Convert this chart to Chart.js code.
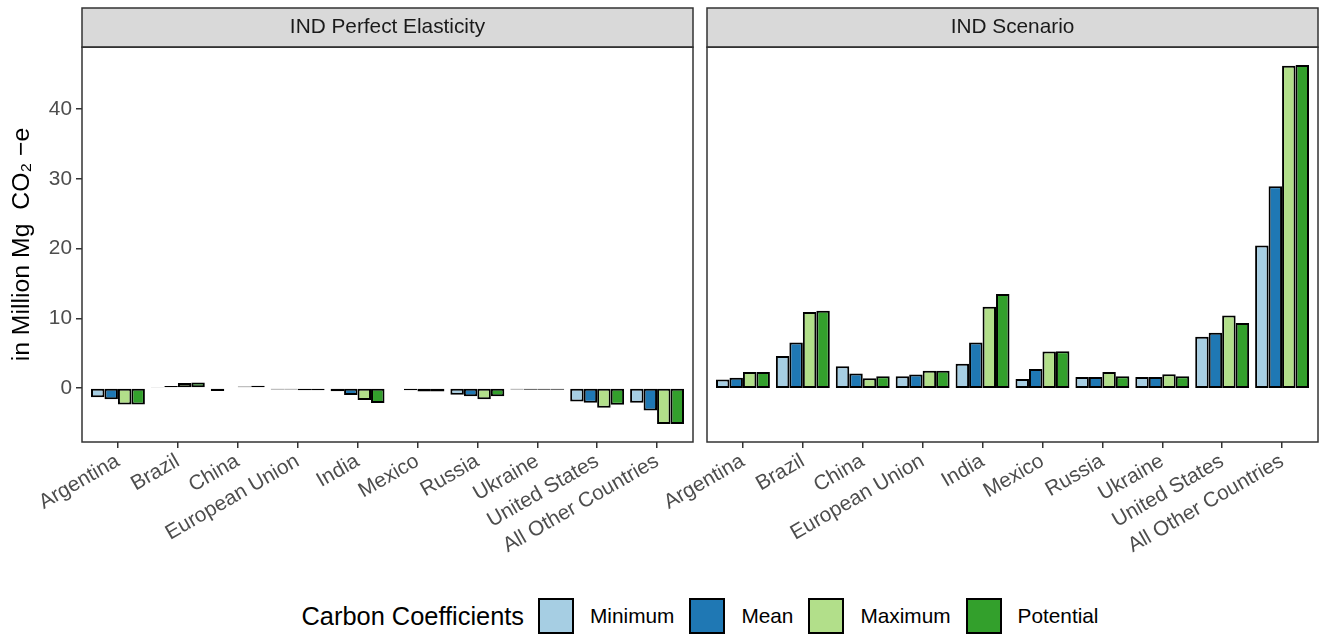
<!DOCTYPE html>
<html>
<head>
<meta charset="utf-8">
<script src="https://cdn.jsdelivr.net/npm/chart.js@4/dist/chart.umd.min.js"></script>
<style>
  html, body { margin: 0; padding: 0; background: #fff; }
  #wrap { position: relative; width: 1324px; height: 636px; font-family: "Liberation Sans", Arial, sans-serif; overflow: hidden; }
  #wrap canvas { position: absolute; left: 0; top: 0; }
  #legend { position: absolute; left: 76px; width: 1248px; top: 598px; height: 36px; display: flex; justify-content: center; align-items: center; }
  #legend .ttl { font-size: 25.4px; color: #000; margin-right: 14px; }
  #legend .key { width: 32px; height: 32px; border: 2px solid #000; margin-right: 16px; }
  #legend .lab { font-size: 20.8px; color: #000; margin-right: 15px; }
  #legend .lab:last-child { margin-right: 0; }
</style>
</head>
<body>
<div id="wrap">
  <canvas id="cvLeft" width="1324" height="590"></canvas>
  <canvas id="cvRight" width="1324" height="590"></canvas>
  <div id="legend"></div>
</div>
<script>
// Categories and series
const countries = ["Argentina", "Brazil", "China", "European Union", "India",
                   "Mexico", "Russia", "Ukraine", "United States", "All Other Countries"];
const seriesNames = ["Minimum", "Mean", "Maximum", "Potential"];
const seriesColors = ["#a6cee3", "#1f78b4", "#b2df8a", "#33a02c"];
const panelTitles = ["IND Perfect Elasticity", "IND Scenario"];
const legendTitle = "Carbon Coefficients";
const yTitle = "in Million Mg  CO\u2082 \u2212e";
const yTicks = [0, 10, 20, 30, 40];

// IND Perfect Elasticity (million Mg CO2-e)
const elasticMinimum   = [-1.3, 0.15, -0.4, -0.2, -0.45, -0.1, -0.95, -0.2, -1.9, -2.1];
const elasticMean      = [-1.6, 0.3, -0.1, -0.2, -1.0, -0.3, -1.15, -0.25, -2.1, -3.2];
const elasticMaximum   = [-2.35, 0.75, 0.25, -0.3, -1.7, -0.5, -1.6, -0.25, -2.8, -5.15];
const elasticPotential = [-2.35, 0.8, 0.35, -0.3, -2.15, -0.5, -1.15, -0.25, -2.4, -5.15];

// IND Scenario (million Mg CO2-e)
const scenarioMinimum   = [1.25, 4.6, 3.15, 1.7, 3.5, 1.3, 1.6, 1.6, 7.35, 20.45];
const scenarioMean      = [1.5, 6.55, 2.1, 1.95, 6.55, 2.75, 1.6, 1.6, 7.95, 28.95];
const scenarioMaximum   = [2.3, 10.9, 1.4, 2.5, 11.65, 5.25, 2.3, 2.0, 10.4, 46.2];
const scenarioPotential = [2.3, 11.1, 1.7, 2.5, 13.5, 5.3, 1.7, 1.7, 9.35, 46.3];

const elasticSeries = [elasticMinimum, elasticMean, elasticMaximum, elasticPotential];
const scenarioSeries = [scenarioMinimum, scenarioMean, scenarioMaximum, scenarioPotential];

// Shared y range: data range padded by 5% on both ends
const allValues = elasticSeries.concat(scenarioSeries).flat().concat([0]);
const dataMin = Math.min(...allValues), dataMax = Math.max(...allValues);
const span = dataMax - dataMin;
const yMin = dataMin - 0.05 * span, yMax = dataMax + 0.05 * span;

const FONT = "'Liberation Sans', Arial, sans-serif";
const SMALL = 20.8, LARGE = 24.8;
const W = 1324, H = 590;
const PANEL_TOP = 8, PANEL_BOTTOM = 442, AXIS_W = 82;

function makeDatasets(series) {
  return series.map((vals, s) => ({
    label: seriesNames[s],
    data: vals.map((v, i) => ({ x: i + 1, y: v })),
    backgroundColor: seriesColors[s],
    borderColor: '#000',
    borderWidth: 2,
    borderSkipped: false,
    categoryPercentage: 0.9,
    barPercentage: 1.0
  }));
}

// Grey strip above the panel and the dark panel frame
const panelFrame = {
  id: 'panelFrame',
  beforeDraw(chart) {
    const { ctx, chartArea: a } = chart;
    ctx.save();
    ctx.fillStyle = '#d9d9d9';
    ctx.fillRect(a.left, PANEL_TOP, a.right - a.left, a.top - PANEL_TOP);
    ctx.strokeStyle = '#333333';
    ctx.lineWidth = 1.5;
    ctx.strokeRect(a.left, PANEL_TOP, a.right - a.left, a.top - PANEL_TOP);
    ctx.restore();
  },
  afterDatasetsDraw(chart) {
    const { ctx, chartArea: a } = chart;
    ctx.save();
    ctx.strokeStyle = '#333333';
    ctx.lineWidth = 1.5;
    ctx.strokeRect(a.left, a.top, a.right - a.left, a.bottom - a.top);
    ctx.restore();
  }
};

function makeChart(canvasId, series, title, padLeft, padRight, showY) {
  return new Chart(document.getElementById(canvasId), {
    type: 'bar',
    data: { datasets: makeDatasets(series) },
    plugins: [panelFrame],
    options: {
      responsive: false,
      animation: false,
      events: [],
      layout: { padding: { top: PANEL_TOP, left: padLeft, right: padRight, bottom: 0 } },
      plugins: {
        legend: { display: false },
        tooltip: { enabled: false },
        title: {
          display: true,
          text: title,
          fullSize: false,
          color: '#1a1a1a',
          font: { family: FONT, size: SMALL, weight: 'normal', lineHeight: 1.2 },
          padding: { top: 7.1, bottom: 7.1 }
        }
      },
      scales: {
        x: {
          type: 'linear',
          offset: false,
          min: 0.4,
          max: 10.6,
          afterBuildTicks(axis) { axis.ticks = countries.map((c, i) => ({ value: i + 1 })); },
          afterFit(axis) {
            axis.height = H - PANEL_BOTTOM;
            axis.paddingLeft = 0; axis.paddingRight = 0;
          },
          grid: { display: true, offset: false, drawOnChartArea: false, drawTicks: true, tickLength: 6, color: '#333333', lineWidth: 1.5 },
          border: { display: false },
          ticks: {
            autoSkip: false,
            maxRotation: 30,
            minRotation: 30,
            padding: 1,
            color: '#4d4d4d',
            font: { family: FONT, size: SMALL },
            callback: (v) => countries[Math.round(v) - 1] || ''
          }
        },
        y: {
          type: 'linear',
          display: showY,
          min: yMin,
          max: yMax,
          afterBuildTicks(axis) { axis.ticks = yTicks.map(v => ({ value: v })); },
          afterFit(axis) {
            axis.width = showY ? AXIS_W : 0;
            axis.paddingTop = 0; axis.paddingBottom = 0;
          },
          grid: { display: true, offset: false, drawOnChartArea: false, drawTicks: true, tickLength: 6, color: '#333333', lineWidth: 1.5 },
          border: { display: false },
          ticks: { padding: 4, color: '#4d4d4d', font: { family: FONT, size: SMALL } },
          title: {
            display: true,
            text: yTitle,
            color: '#000',
            font: { family: FONT, size: LARGE, lineHeight: 1.2 },
            padding: { top: 7, bottom: 0 }
          }
        }
      }
    }
  });
}

makeChart('cvLeft', elasticSeries, panelTitles[0], 0, W - 693, true);
makeChart('cvRight', scenarioSeries, panelTitles[1], 707, W - 1318, false);

// Legend row
const legendEl = document.getElementById('legend');
const t = document.createElement('span');
t.className = 'ttl'; t.textContent = legendTitle;
legendEl.appendChild(t);
seriesNames.forEach((name, s) => {
  const k = document.createElement('span');
  k.className = 'key'; k.style.background = seriesColors[s];
  legendEl.appendChild(k);
  const l = document.createElement('span');
  l.className = 'lab'; l.textContent = name;
  legendEl.appendChild(l);
});
</script>
</body>
</html>
